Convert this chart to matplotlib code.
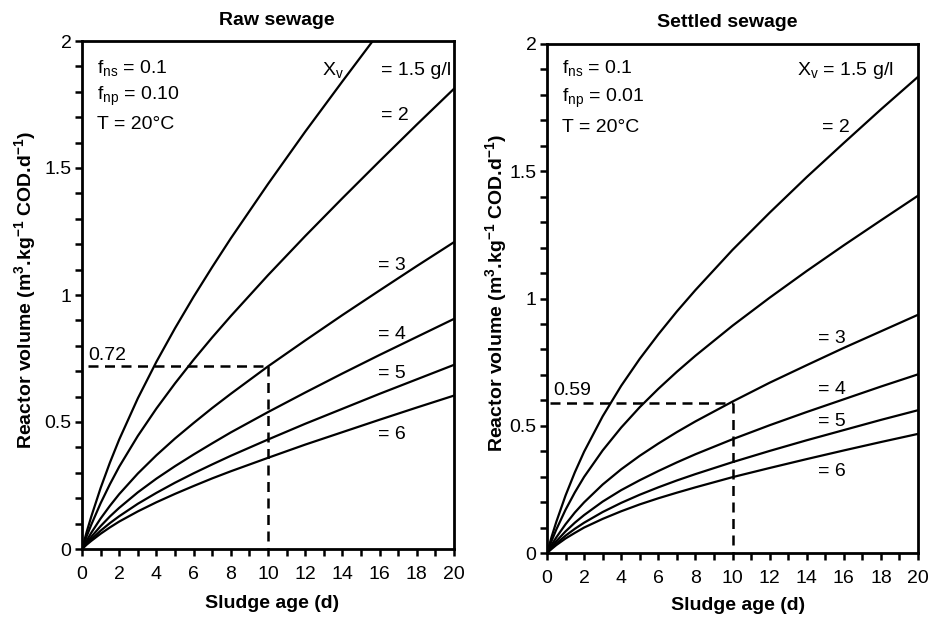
import matplotlib
matplotlib.use("Agg")
import matplotlib.pyplot as plt
from matplotlib.ticker import MultipleLocator, FixedLocator

plt.rcParams['font.family'] = ['Liberation Sans', 'DejaVu Sans']
plt.rcParams['mathtext.fontset'] = 'custom'
plt.rcParams['mathtext.rm'] = 'Liberation Sans'
plt.rcParams['mathtext.it'] = 'Liberation Sans'
plt.rcParams['mathtext.bf'] = 'Liberation Sans:bold'
plt.rcParams['mathtext.default'] = 'regular'

# Sludge age (d)
sludge_age = [0, 0.25, 0.5, 1, 1.5, 2, 3, 4, 5, 6, 7, 8, 10, 12, 14, 16, 18, 20]

# Raw sewage: reactor volume (m3 per kg COD/d) for each Xv (g/l)
raw_15 = [0, 0.067, 0.128, 0.240, 0.340, 0.431, 0.593, 0.737, 0.869, 0.993, 1.110, 1.223, 1.437, 1.643, 1.841, 2.036]
raw_2 = [0, 0.050, 0.096, 0.180, 0.255, 0.324, 0.445, 0.553, 0.652, 0.745, 0.833, 0.917, 1.078, 1.232, 1.381, 1.527, 1.671, 1.812]
raw_3 = [0, 0.033, 0.064, 0.120, 0.170, 0.216, 0.297, 0.369, 0.435, 0.496, 0.555, 0.611, 0.719, 0.821, 0.921, 1.018, 1.114, 1.208]
raw_4 = [0, 0.025, 0.048, 0.090, 0.128, 0.162, 0.223, 0.277, 0.326, 0.372, 0.416, 0.459, 0.539, 0.616, 0.691, 0.764, 0.835, 0.906]
raw_5 = [0, 0.020, 0.038, 0.072, 0.102, 0.129, 0.178, 0.221, 0.261, 0.298, 0.333, 0.367, 0.431, 0.493, 0.552, 0.611, 0.668, 0.725]
raw_6 = [0, 0.017, 0.032, 0.060, 0.085, 0.108, 0.148, 0.184, 0.217, 0.248, 0.278, 0.306, 0.359, 0.411, 0.460, 0.509, 0.557, 0.604]

# Settled sewage
set_15 = [0, 0.064, 0.122, 0.226, 0.317, 0.398, 0.537, 0.657, 0.763, 0.859, 0.949, 1.033, 1.191, 1.337, 1.477, 1.611, 1.743, 1.871]
set_2 = [0, 0.048, 0.092, 0.170, 0.238, 0.299, 0.403, 0.493, 0.573, 0.645, 0.712, 0.775, 0.893, 1.003, 1.108, 1.209, 1.307, 1.404]
set_3 = [0, 0.032, 0.061, 0.113, 0.159, 0.199, 0.269, 0.329, 0.382, 0.430, 0.475, 0.517, 0.595, 0.669, 0.738, 0.806, 0.871, 0.936]
set_4 = [0, 0.024, 0.046, 0.085, 0.119, 0.149, 0.202, 0.247, 0.286, 0.322, 0.356, 0.388, 0.447, 0.502, 0.554, 0.604, 0.654, 0.702]
set_5 = [0, 0.019, 0.037, 0.068, 0.095, 0.119, 0.161, 0.197, 0.229, 0.258, 0.285, 0.310, 0.357, 0.401, 0.443, 0.483, 0.523, 0.561]
set_6 = [0, 0.016, 0.031, 0.057, 0.079, 0.100, 0.134, 0.164, 0.191, 0.215, 0.237, 0.258, 0.298, 0.334, 0.369, 0.403, 0.436, 0.468]

# Design point read-offs
raw_design = (10, 0.72)
set_design = (10, 0.59)

x_ticks = list(range(0, 21, 2))
y_ticks = [0, 0.5, 1, 1.5, 2]
y_tick_labels = ["0", "0.5", "1", "1.5", "2"]

fig = plt.figure(figsize=(9.33, 6.19), dpi=100)
axL = fig.add_axes([82/933, 1-549/619, 372/933, 508/619])
axR = fig.add_axes([547/933, 1-553/619, 371/933, 509/619])

ylabel = r"Reactor volume (m$^{3}$.kg$^{-1}$ COD.d$^{-1}$)"
FS = 14

def style(ax, xl_coords, yl_coords):
    ax.set_xlim(0, 20)
    ax.set_ylim(0, 2)
    ax.xaxis.set_major_locator(FixedLocator(x_ticks))
    ax.xaxis.set_minor_locator(MultipleLocator(1))
    ax.yaxis.set_major_locator(FixedLocator(y_ticks))
    ax.set_yticklabels(y_tick_labels)
    ax.yaxis.set_minor_locator(MultipleLocator(0.1))
    ax.tick_params(axis='both', which='both', direction='out', length=5, width=1.8,
                   top=False, right=False, labelsize=FS)
    ax.tick_params(axis='x', which='both', pad=7.5)
    ax.tick_params(axis='y', which='both', pad=2.5)
    for s in ax.spines.values():
        s.set_linewidth(2.0)
    ax.set_xlabel("Sludge age (d)", fontsize=FS, fontweight='bold')
    ax.xaxis.set_label_coords(*xl_coords)
    ax.xaxis.label.set_verticalalignment('baseline')
    ax.set_ylabel(ylabel, fontsize=FS, fontweight='bold')
    ax.yaxis.set_label_coords(*yl_coords)
    ax.yaxis.label.set_verticalalignment('center')

lw = 1.6
for ys in [raw_15, raw_2, raw_3, raw_4, raw_5, raw_6]:
    axL.plot(sludge_age[:len(ys)], ys, color='black', lw=lw, clip_on=True)
for ys in [set_15, set_2, set_3, set_4, set_5, set_6]:
    axR.plot(sludge_age[:len(ys)], ys, color='black', lw=lw, clip_on=True)

dash = (0, (4, 2.6))
axL.plot([0.3, raw_design[0]], [raw_design[1], raw_design[1]], color='black', lw=1.8, linestyle=dash)
axL.plot([raw_design[0], raw_design[0]], [raw_design[1], 0], color='black', lw=1.8, linestyle=dash)
axR.plot([0.15, set_design[0]], [set_design[1], set_design[1]], color='black', lw=1.8, linestyle=dash)
axR.plot([set_design[0], set_design[0]], [set_design[1], 0], color='black', lw=1.8, linestyle=dash)

style(axL, (0.51, -0.116), (-0.153, 0.51))
style(axR, (0.515, -0.112), (-0.137, 0.51))

fs = FS
# Left panel annotations
axL.text(0.32, 0.745, "0.72", fontsize=fs, va='baseline')
axL.text(0.8, 1.875, r"f$_{ns}$ = 0.1", fontsize=fs, va='baseline')
axL.text(0.8, 1.768, r"f$_{np}$ = 0.10", fontsize=fs, va='baseline')
axL.text(0.8, 1.652, "T = 20°C", fontsize=fs, va='baseline')
axL.text(12.9, 1.866, r"X$_{v}$", fontsize=fs, va='baseline')
axL.text(16.1, 1.866, "= 1.5 g/l", fontsize=fs, va='baseline')
axL.text(16.1, 1.69, "= 2", fontsize=fs, va='baseline')
axL.text(15.9, 1.10, "= 3", fontsize=fs, va='baseline')
axL.text(15.9, 0.827, "= 4", fontsize=fs, va='baseline')
axL.text(15.9, 0.673, "= 5", fontsize=fs, va='baseline')
axL.text(15.9, 0.433, "= 6", fontsize=fs, va='baseline')
axL.text(0.524, 1.0 + 16/508, "Raw sewage", transform=axL.transAxes, fontsize=FS,
         fontweight='bold', ha='center', va='baseline')

# Right panel annotations
axR.text(0.33, 0.62, "0.59", fontsize=fs, va='baseline')
axR.text(0.81, 1.886, r"f$_{ns}$ = 0.1", fontsize=fs, va='baseline')
axR.text(0.81, 1.773, r"f$_{np}$ = 0.01", fontsize=fs, va='baseline')
axR.text(0.81, 1.655, "T = 20°C", fontsize=fs, va='baseline')
axR.text(13.5, 1.879, r"X$_{v}$ = 1.5 g/l", fontsize=fs, va='baseline')
axR.text(14.8, 1.655, "= 2", fontsize=fs, va='baseline')
axR.text(14.6, 0.826, "= 3", fontsize=fs, va='baseline')
axR.text(14.6, 0.625, "= 4", fontsize=fs, va='baseline')
axR.text(14.6, 0.499, "= 5", fontsize=fs, va='baseline')
axR.text(14.6, 0.303, "= 6", fontsize=fs, va='baseline')
axR.text(0.485, 1.0 + 17/509, "Settled sewage", transform=axR.transAxes, fontsize=FS,
         fontweight='bold', ha='center', va='baseline')

fig.savefig("out.png", dpi=100)
